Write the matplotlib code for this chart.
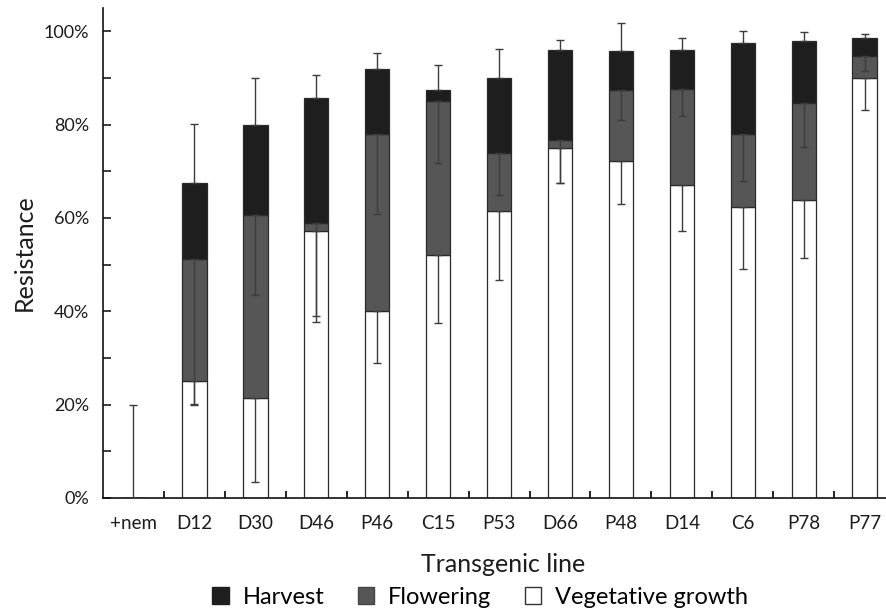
import numpy as np
import matplotlib
matplotlib.use("Agg")
import matplotlib.pyplot as plt
from matplotlib.patches import Patch
from matplotlib.ticker import MultipleLocator, FixedLocator

plt.rcParams['font.family'] = ['Lato', 'DejaVu Sans']

lines = ["+nem", "D12", "D30", "D46", "P46", "C15", "P53", "D66", "P48", "D14", "C6", "P78", "P77"]
# stage contributions (%), stacked: vegetative (bottom), flowering, harvest (top)
vegetative = [0, 25.0, 21.5, 57.2, 40.0, 52.0, 61.4, 74.9, 72.2, 67.0, 62.4, 63.8, 89.9]
flowering = [0, 26.2, 39.1, 1.8, 38.1, 33.1, 12.5, 1.8, 15.3, 20.6, 15.7, 20.8, 4.8]
harvest = [0, 16.2, 19.4, 26.8, 13.8, 2.3, 16.0, 19.2, 8.3, 8.4, 19.4, 13.3, 3.9]
# error bars
vegetative_err = [0, 5.0, 18.1, 19.4, 11.0, 14.5, 14.6, 7.4, 9.2, 9.7, 13.3, 12.3, 6.8]
flowering_err = [0, 31.1, 17.2, 20.0, 17.3, 13.4, 8.9, 9.2, 6.6, 5.8, 10.1, 9.3, 3.3]
harvest_err = [20.0, 12.7, 10.1, 4.8, 3.5, 5.4, 6.3, 2.3, 6.0, 2.6, 2.6, 1.9, 0.9]
yticklabels = ["0%", "20%", "40%", "60%", "80%", "100%"]

veg = np.array(vegetative)
flo = np.array(flowering)
har = np.array(harvest)
x = np.arange(len(lines))

fig = plt.figure(figsize=(8.86, 6.12), dpi=100)
ax = fig.add_axes([103/886, 1 - 498/612, 1 - 103/886, 490/612])

w = 0.40
edge = dict(edgecolor='#2a2a2a', linewidth=0.9)
ax.bar(x, veg, w, color='white', **edge, zorder=2)
ax.bar(x, flo, w, bottom=veg, color='#565656', **edge, zorder=2)
ax.bar(x, har, w, bottom=veg + flo, color='#1e1e1e', **edge, zorder=2)

ekw = dict(fmt='none', ecolor='#3c3c3c', elinewidth=1.0, capsize=2.6, capthick=1.0, zorder=3)
zeros = np.zeros(len(x))
ax.errorbar(x, veg + flo + har, yerr=[zeros, np.array(harvest_err)], **ekw)
ax.errorbar(x, veg + flo, yerr=[np.array(flowering_err), zeros], **ekw)
ax.errorbar(x, veg, yerr=[np.array(vegetative_err), zeros], **ekw)

ax.set_xlim(-0.5, 12.35)
ax.set_ylim(0, 105)

ax.set_yticks([0, 20, 40, 60, 80, 100])
ax.set_yticklabels(yticklabels)
ax.yaxis.set_minor_locator(MultipleLocator(10))
ax.tick_params(axis='y', which='both', direction='in', length=6, width=1.2, labelsize=13, pad=10, colors='#1c1c1c')

ax.set_xticks(x)
ax.set_xticklabels(lines)
ax.xaxis.set_minor_locator(FixedLocator(np.arange(0.5, 12.5, 1.0)))
ax.tick_params(axis='x', which='major', length=0, labelsize=13.5, pad=12, colors='#1c1c1c')
ax.tick_params(axis='x', which='minor', direction='in', length=5, width=1.2)

for s in ['top', 'right']:
    ax.spines[s].set_visible(False)
for s in ['left', 'bottom']:
    ax.spines[s].set_linewidth(1.2)
    ax.spines[s].set_color('#111111')

ax.set_xlabel("Transgenic line", fontsize=18, labelpad=15, color='#1c1c1c', x=0.511)
ax.set_ylabel("Resistance", fontsize=18, labelpad=6, color='#1c1c1c')

handles = [Patch(facecolor='#1e1e1e', edgecolor='#1e1e1e', label='Harvest'),
           Patch(facecolor='#565656', edgecolor='#444444', label='Flowering'),
           Patch(facecolor='white', edgecolor='#333333', label='Vegetative growth')]
fig.legend(handles=handles, loc='center', bbox_to_anchor=(0.542, 1 - 597/612), ncol=3,
           frameon=False, fontsize=17, handlelength=0.7, handleheight=0.7,
           handletextpad=0.6, columnspacing=1.4)

fig.savefig("out.png", dpi=100)
